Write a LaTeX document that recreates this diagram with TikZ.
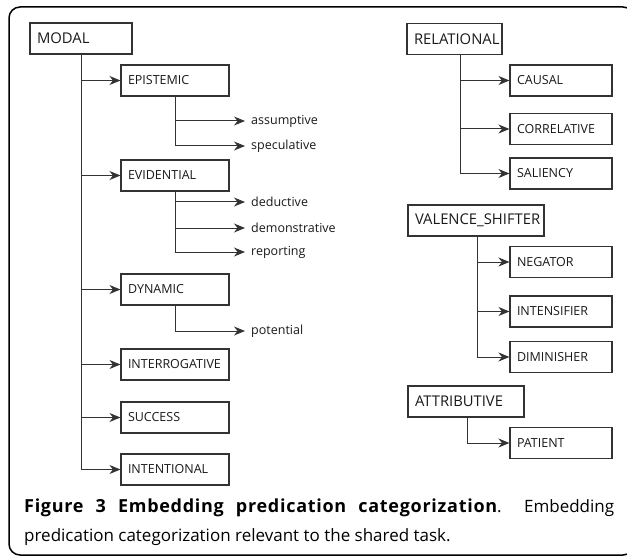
\documentclass[tikz,border=0pt]{standalone}
\usepackage{fontspec}
\setmainfont{Open Sans}
\newfontfamily\capboldfont[LetterSpace=4]{Open Sans}
\usetikzlibrary{arrows.meta}
\definecolor{ln}{HTML}{333333}
\begin{document}
\begin{tikzpicture}[x=1pt,y=-1pt,
  box/.style={draw=ln, line width=1.1pt, minimum height=31pt, inner xsep=7pt, inner ysep=0pt,
    align=left, font=\fontsize{12.5}{14}\selectfont, text=black!90},
  root/.style={box, font=\fontsize{14.8}{16}\selectfont},
  leaf/.style={anchor=west, inner xsep=6pt, inner ysep=0pt, font=\fontsize{12.5}{14}\selectfont, text=black!90},
  arr/.style={draw=ln, line width=1pt, -{Stealth[length=11pt,width=9pt,inset=3.5pt]}},
  frame/.style={draw=black, line width=1.5pt, rounded corners=11pt}]
\useasboundingbox (0,0) rectangle (627,559);
\draw[frame] (9,7) rectangle (634,555);

% MODAL tree
\node[root, text width=88pt] (modal) at (81,38.5) {MODAL};
\node[box, text width=94pt] (epi) at (175,80.5) {EPISTEMIC};
\node[box, text width=94pt] (evi) at (175,175.5) {EVIDENTIAL};
\node[box, text width=94pt] (dyn) at (175,289.5) {DYNAMIC};
\node[box, text width=94pt] (intr) at (175,364.5) {INTERROGATIVE};
\node[box, text width=94pt] (succ) at (175,417.5) {SUCCESS};
\node[box, text width=94pt] (inten) at (175,469.5) {INTENTIONAL};

\node[leaf] (assu) at (245,121) {assumptive};
\node[leaf] (spec) at (245,146) {speculative};
\node[leaf] (dedu) at (245,202) {deductive};
\node[leaf] (demo) at (245,228) {demonstrative};
\node[leaf] (repo) at (245,252) {reporting};
\node[leaf] (pote) at (245,331) {potential};

\foreach \c in {epi,evi,dyn,intr,succ,inten}
  \draw[arr] (modal.south) |- (\c.west);
\foreach \c in {assu,spec}
  \draw[arr] (epi.south) |- (\c.west);
\foreach \c in {dedu,demo,repo}
  \draw[arr] (evi.south) |- (\c.west);
\draw[arr] (dyn.south) |- (pote.west);

% RELATIONAL tree
\node[root, text width=81pt] (rel) at (454.5,39) {RELATIONAL};
\node[box, text width=88pt] (caus) at (561,80.5) {CAUSAL};
\node[box, text width=88pt] (corr) at (561,129) {CORRELATIVE};
\node[box, text width=88pt] (sali) at (561,173.5) {SALIENCY};
\coordinate (relb) at ([xshift=5.5pt]rel.south);
\foreach \c in {caus,corr,sali}
  \draw[arr] (relb) |- (\c.west);

% VALENCE_SHIFTER tree
\node[root, text width=122pt] (val) at (476,220.5) {VALENCE\_SHIFTER};
\node[box, text width=88pt] (nega) at (561,262) {NEGATOR};
\node[box, text width=88pt] (inte) at (561,311.5) {INTENSIFIER};
\node[box, text width=88pt] (dimi) at (561,357) {DIMINISHER};
\coordinate (valb) at ([xshift=1pt]val.south);
\foreach \c in {nega,inte,dimi}
  \draw[arr] (valb) |- (\c.west);

% ATTRIBUTIVE tree
\node[root, text width=102pt] (attr) at (466,401.5) {ATTRIBUTIVE};
\node[box, text width=88pt] (pati) at (561,443) {PATIENT};
\coordinate (attrb) at ([xshift=1pt]attr.south);
\draw[arr] (attrb) |- (pati.west);

% caption
\node[anchor=north west, inner sep=0pt, text width=590pt, align=justify,
  font=\fontsize{17}{29}\selectfont] (cap) at (24,499)
  {{\fontsize{18}{29}\capboldfont\bfseries Figure 3 Embedding predication categorization}. Embedding\linebreak predication categorization relevant to the shared task.};
\end{tikzpicture}
\end{document}
